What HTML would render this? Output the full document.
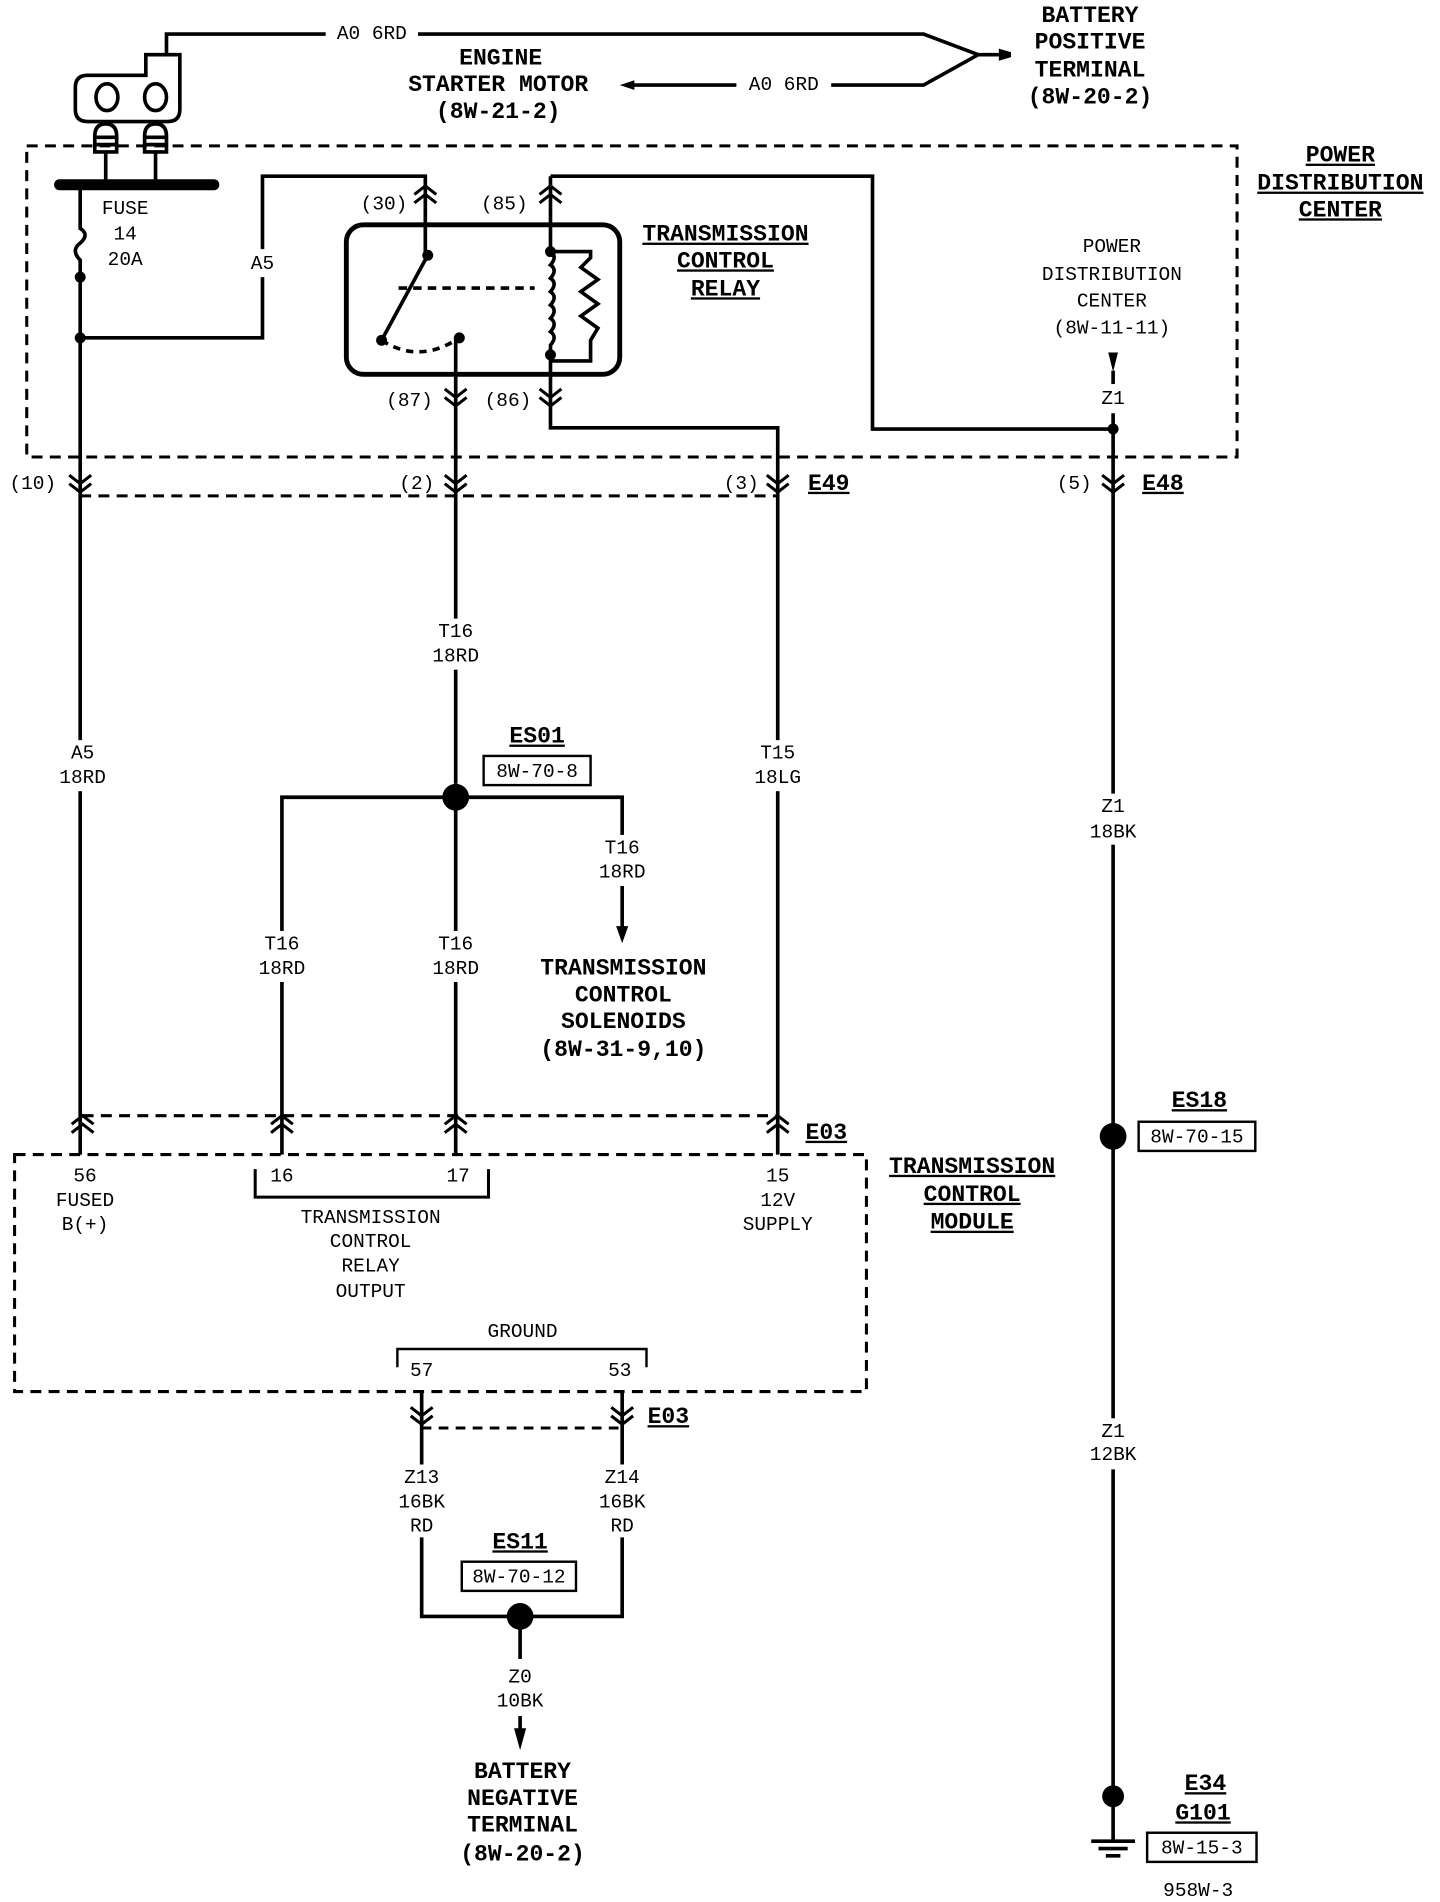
<!DOCTYPE html>
<html><head><meta charset="utf-8"><style>
html,body{margin:0;padding:0;background:#fff;}
svg{display:block;}
text{font-family:"Liberation Mono",monospace;fill:#000;}
.r{font-size:16px;}
.b{font-size:19px;font-weight:bold;}
</style></head><body>
<svg width="1440" height="1902" viewBox="0 0 1185 1565" preserveAspectRatio="none" xmlns="http://www.w3.org/2000/svg">
<defs>
<g id="dn"><path d="M-9,-7 L0,0 L9,-7 M-9,0 L0,7 L9,0" fill="none" stroke="#000" stroke-width="2.5"/></g>
<g id="up"><path d="M-9,7 L0,0 L9,7 M-9,0 L0,-7 L9,0" fill="none" stroke="#000" stroke-width="2.5"/></g>
</defs>
<g fill="none" stroke="#000" stroke-width="3">
<polyline points="137,45 137,28 760,28 805,45"/>
<polyline points="515,70 760,70 805,45"/>
<line x1="805" y1="45" x2="822" y2="45"/>
<path d="M120,62 V45 H148 V90 Q148,100 138,100 H72 Q62,100 62,90 V72 Q62,62 72,62 Z"/>
<ellipse cx="88" cy="80" rx="9" ry="11"/><ellipse cx="128" cy="80" rx="9" ry="11"/>
<path d="M78,125 V112 Q78,102 87,102 Q96,102 96,112 V125 Z M119,125 V112 Q119,102 128,102 Q137,102 137,112 V125 Z M78,113 H96 M78,119 H96 M119,113 H137 M119,119 H137"/>
<line x1="87" y1="125" x2="87" y2="152"/><line x1="128" y1="125" x2="128" y2="152"/>
<rect x="22" y="120" width="996" height="256" stroke-dasharray="9,6" stroke-width="2.5"/>
<path d="M66,152 V188 Q74,193 66,200 Q58,206 66,214 V950"/>
<polyline points="66,278 216,278 216,228"/>
<polyline points="216,205 216,145 350,145 350,210"/>
<rect x="285" y="185" width="225" height="123" rx="14" stroke-width="4"/>
<line x1="352" y1="210" x2="314" y2="280"/>
<path d="M314,280 Q345,300 378,278" stroke-dasharray="6,5"/>
<line x1="328" y1="237" x2="440" y2="237" stroke-dasharray="7,5"/>
<polyline points="453,145 718,145 718,353 916,353"/>
<line x1="453" y1="145" x2="453" y2="207"/>
<path d="M453,207 q6,4 0,11 q6,4 0,11 q6,4 0,11 q6,4 0,11 q6,4 0,11 q6,4 0,11 q6,4 0,11 V352 H640 V950"/>
<path d="M453,207 H486 V212 l-8,8 l14,10 l-14,10 l14,10 l-14,10 l14,10 l-6,10 V297 H453"/>
<line x1="375" y1="278" x2="375" y2="645"/>
<line x1="916" y1="305" x2="916" y2="316"/>
<line x1="916" y1="340" x2="916" y2="1515"/>
<line x1="66" y1="408" x2="640" y2="408" stroke-dasharray="9,6" stroke-width="2.5"/>
<line x1="68" y1="918" x2="640" y2="918" stroke-dasharray="9,6" stroke-width="2.5"/>
<polyline points="232,950 232,656 512,656 512,765"/>
<line x1="375" y1="656" x2="375" y2="950"/>
<rect x="12" y="950" width="701" height="195" stroke-dasharray="9,6" stroke-width="2.5"/>
<polyline points="210,962 210,985 402,985 402,962" stroke-width="2.5"/>
<polyline points="327,1125 327,1110 532,1110 532,1125" stroke-width="2"/>
<line x1="347" y1="1175" x2="512" y2="1175" stroke-dasharray="8,6" stroke-width="2.5"/>
<polyline points="347,1145 347,1205"/><polyline points="512,1145 512,1205"/>
<polyline points="347,1265 347,1330 512,1330 512,1265"/>
<line x1="428" y1="1330" x2="428" y2="1365"/>
<line x1="428" y1="1412" x2="428" y2="1425"/>
<line x1="898" y1="1515" x2="934" y2="1515" stroke-width="3"/>
<line x1="904" y1="1521" x2="928" y2="1521"/><line x1="910" y1="1527" x2="922" y2="1527"/>
<rect x="398" y="622" width="88" height="24" stroke-width="2"/>
<rect x="380" y="1285" width="94" height="24" stroke-width="2"/>
<rect x="937" y="923" width="96" height="24" stroke-width="2"/>
<rect x="944" y="1508" width="90" height="24" stroke-width="2"/>
</g>
<line x1="49" y1="152" x2="176" y2="152" stroke="#000" stroke-width="9" stroke-linecap="round"/>
<g fill="#000">
<circle cx="66" cy="228" r="4.5"/><circle cx="66" cy="278" r="4.5"/>
<circle cx="352" cy="210" r="4.5"/><circle cx="314" cy="280" r="4.5"/><circle cx="378" cy="278" r="4.5"/>
<circle cx="453" cy="207" r="4.5"/><circle cx="453" cy="292" r="4.5"/>
<circle cx="916" cy="353" r="4.5"/>
<circle cx="375" cy="656" r="11"/><circle cx="428" cy="1330" r="11"/>
<circle cx="916" cy="935" r="11"/><circle cx="916" cy="1478" r="9"/>
<polygon points="822,40 832,43 832,47 822,50"/>
<polygon points="510,70 522,66 522,74"/>
<polygon points="912,290 920,290 916,306"/>
<polygon points="507,762 517,762 512,776"/>
<polygon points="423,1422 433,1422 428,1440"/>
</g>
<!-- white gaps for wire labels -->
<g fill="#fff">
<rect x="350" y="509" width="50" height="42"/>
<rect x="43" y="609" width="50" height="42"/>
<rect x="615" y="609" width="50" height="42"/>
<rect x="891" y="653" width="50" height="42"/>
<rect x="487" y="687" width="50" height="42"/>
<rect x="207" y="766" width="50" height="42"/>
<rect x="350" y="766" width="50" height="42"/>
<rect x="891" y="1167" width="50" height="42"/>
</g>
<use href="#up" x="350" y="160"/><use href="#up" x="453" y="160"/>
<use href="#dn" x="375" y="327"/><use href="#dn" x="453" y="327"/>
<use href="#dn" x="66" y="398"/><use href="#dn" x="375" y="398"/><use href="#dn" x="640" y="398"/><use href="#dn" x="916" y="398"/>
<use href="#up" x="68" y="925"/><use href="#up" x="232" y="925"/><use href="#up" x="375" y="925"/><use href="#up" x="640" y="925"/>
<use href="#dn" x="347" y="1165"/><use href="#dn" x="512" y="1165"/>
<g text-anchor="middle" dominant-baseline="middle">
<rect x="268" y="18" width="76" height="20" fill="#fff"/><text class="r" x="306" y="28">A0 6RD</text>
<rect x="606" y="60" width="78" height="20" fill="#fff"/><text class="r" x="645" y="70">A0 6RD</text>
<text class="b" x="412" y="48">ENGINE</text><text class="b" x="410" y="70">STARTER MOTOR</text><text class="b" x="410" y="92">(8W-21-2)</text>
<text class="b" x="897" y="13">BATTERY</text><text class="b" x="897" y="35">POSITIVE</text><text class="b" x="897" y="58">TERMINAL</text><text class="b" x="897" y="80">(8W-20-2)</text>
<text class="b" x="1103" y="128" text-decoration="underline">POWER</text><text class="b" x="1103" y="151" text-decoration="underline">DISTRIBUTION</text><text class="b" x="1103" y="173" text-decoration="underline">CENTER</text>
<text class="b" x="597" y="193" text-decoration="underline">TRANSMISSION</text><text class="b" x="597" y="215" text-decoration="underline">CONTROL</text><text class="b" x="597" y="238" text-decoration="underline">RELAY</text>
<text class="r" x="915" y="203">POWER</text><text class="r" x="915" y="226">DISTRIBUTION</text><text class="r" x="915" y="248">CENTER</text><text class="r" x="915" y="270">(8W-11-11)</text>
<text class="r" x="916" y="328">Z1</text>
<text class="r" x="103" y="172">FUSE</text><text class="r" x="103" y="193">14</text><text class="r" x="103" y="214">20A</text>
<text class="r" x="216" y="217">A5</text>
<text class="r" x="316" y="168">(30)</text><text class="r" x="415" y="168">(85)</text>
<text class="r" x="337" y="330">(87)</text><text class="r" x="418" y="330">(86)</text>
<text class="r" x="27" y="398">(10)</text><text class="r" x="343" y="398">(2)</text><text class="r" x="610" y="398">(3)</text><text class="r" x="884" y="398">(5)</text>
<text class="b" x="682" y="398" text-decoration="underline">E49</text><text class="b" x="957" y="398" text-decoration="underline">E48</text>
<text class="r" x="375" y="520">T16</text><text class="r" x="375" y="540">18RD</text>
<text class="r" x="68" y="620">A5</text><text class="r" x="68" y="640">18RD</text>
<text class="r" x="640" y="620">T15</text><text class="r" x="640" y="640">18LG</text>
<text class="r" x="916" y="664">Z1</text><text class="r" x="916" y="685">18BK</text>
<text class="b" x="442" y="606" text-decoration="underline">ES01</text><text class="r" x="442" y="635">8W-70-8</text>
<text class="r" x="512" y="698">T16</text><text class="r" x="512" y="718">18RD</text>
<text class="r" x="232" y="777">T16</text><text class="r" x="232" y="797">18RD</text>
<text class="r" x="375" y="777">T16</text><text class="r" x="375" y="797">18RD</text>
<text class="b" x="513" y="797">TRANSMISSION</text><text class="b" x="513" y="819">CONTROL</text><text class="b" x="513" y="841">SOLENOIDS</text><text class="b" x="513" y="864">(8W-31-9,10)</text>
<text class="b" x="680" y="932" text-decoration="underline">E03</text>
<text class="b" x="800" y="960" text-decoration="underline">TRANSMISSION</text><text class="b" x="800" y="983" text-decoration="underline">CONTROL</text><text class="b" x="800" y="1006" text-decoration="underline">MODULE</text>
<text class="r" x="70" y="968">56</text><text class="r" x="70" y="988">FUSED</text><text class="r" x="70" y="1008">B(+)</text>
<text class="r" x="232" y="968">16</text><text class="r" x="377" y="968">17</text>
<text class="r" x="305" y="1002">TRANSMISSION</text><text class="r" x="305" y="1022">CONTROL</text><text class="r" x="305" y="1042">RELAY</text><text class="r" x="305" y="1063">OUTPUT</text>
<text class="r" x="640" y="968">15</text><text class="r" x="640" y="988">12V</text><text class="r" x="640" y="1008">SUPPLY</text>
<text x="987" y="906" style="font-size:19px;font-weight:bold" text-decoration="underline">ES18</text><text class="r" x="985" y="936">8W-70-15</text>
<text class="r" x="430" y="1096">GROUND</text>
<text class="r" x="347" y="1128">57</text><text class="r" x="510" y="1128">53</text>
<text class="b" x="550" y="1166" text-decoration="underline">E03</text>
<text class="r" x="347" y="1216">Z13</text><text class="r" x="347" y="1236">16BK</text><text class="r" x="347" y="1256">RD</text>
<text class="r" x="512" y="1216">Z14</text><text class="r" x="512" y="1236">16BK</text><text class="r" x="512" y="1256">RD</text>
<text class="b" x="428" y="1269" text-decoration="underline">ES11</text><text class="r" x="427" y="1298">8W-70-12</text>
<text class="r" x="428" y="1380">Z0</text><text class="r" x="428" y="1400">10BK</text>
<text class="b" x="430" y="1458">BATTERY</text><text class="b" x="430" y="1480">NEGATIVE</text><text class="b" x="430" y="1502">TERMINAL</text><text class="b" x="430" y="1526">(8W-20-2)</text>
<text class="r" x="916" y="1178">Z1</text><text class="r" x="916" y="1197">12BK</text>
<text class="b" x="992" y="1468" text-decoration="underline">E34</text><text class="b" x="990" y="1492" text-decoration="underline">G101</text>
<text class="r" x="989" y="1521">8W-15-3</text>
<text class="r" x="986" y="1556">958W-3</text>
</g>
</svg>
</body></html>
